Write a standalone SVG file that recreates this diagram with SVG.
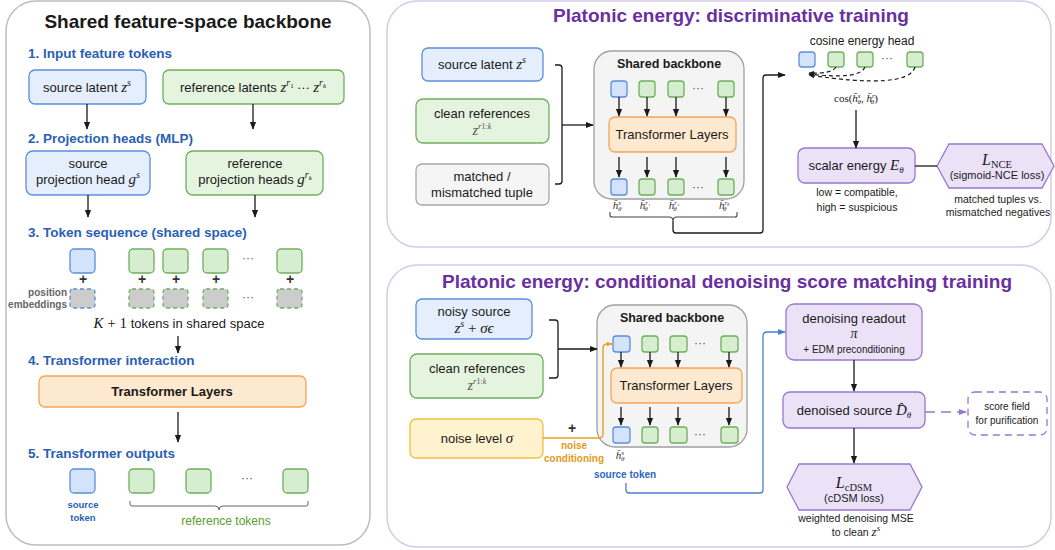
<svg xmlns="http://www.w3.org/2000/svg" width="1055" height="550" viewBox="0 0 1055 550">
<style>
text{font-family:"Liberation Sans",Arial,sans-serif;fill:#1a1a1a}
.ttl{font-size:19px;font-weight:bold}
.ptl{font-size:19px;font-weight:bold;fill:#6a2fa0}
.hdr{font-size:13.5px;font-weight:bold;fill:#2b5fb4}
.t13{font-size:13px}
.t12{font-size:12px}
.t11{font-size:11px}
.t10{font-size:10px}
.m{font-family:"Liberation Serif","Times New Roman",serif;font-style:italic}
.mr{font-family:"Liberation Serif","Times New Roman",serif}
.c{text-anchor:middle}
.r{text-anchor:end}
.bx-b{fill:#e4eefc;stroke:#5b8fd9;stroke-width:1.3}
.bx-g{fill:#e5f4de;stroke:#6db05c;stroke-width:1.3}
.bx-gr{fill:#f5f5f5;stroke:#a8a8a8;stroke-width:1.3}
.bx-o{fill:#fde9cf;stroke:#f3a65a;stroke-width:1.3}
.bx-y{fill:#fff3cf;stroke:#f0c040;stroke-width:1.3}
.bx-p{fill:#ece2f8;stroke:#9a76cf;stroke-width:1.3}
.tk-b{fill:#d3e3fb;stroke:#5b8fd9;stroke-width:1.3}
.tk-g{fill:#d6edd0;stroke:#6db05c;stroke-width:1.3}
.pe-b{fill:#cccccc;stroke:#5b8fd9;stroke-width:1.3;stroke-dasharray:4 3}
.pe-g{fill:#cccccc;stroke:#6db05c;stroke-width:1.3;stroke-dasharray:4 3}
.bb{fill:#f4f4f4;stroke:#a0a0a0;stroke-width:1.3}
.ln{fill:none;stroke:#1a1a1a;stroke-width:1.3}
.arr{fill:none;stroke:#1a1a1a;stroke-width:1.3;marker-end:url(#ah)}
.dots{fill:#555;font-size:12px}
.plus{fill:#333;font-size:14px;font-weight:bold;text-anchor:middle}
</style>
<defs>
<marker id="ah" viewBox="0 0 10 10" refX="9" refY="5" markerWidth="8" markerHeight="8" markerUnits="userSpaceOnUse" orient="auto"><path d="M0,1 L10,5 L0,9 z" fill="#1a1a1a"/></marker>
<marker id="ahs" viewBox="0 0 10 10" refX="9" refY="5" markerWidth="6" markerHeight="6" markerUnits="userSpaceOnUse" orient="auto"><path d="M0,1 L10,5 L0,9 z" fill="#1a1a1a"/></marker>
<marker id="aho" viewBox="0 0 10 10" refX="9" refY="5" markerWidth="6" markerHeight="6" markerUnits="userSpaceOnUse" orient="auto"><path d="M0,1 L10,5 L0,9 z" fill="#e6a020"/></marker>
<marker id="ahb" viewBox="0 0 10 10" refX="9" refY="5" markerWidth="8" markerHeight="8" markerUnits="userSpaceOnUse" orient="auto"><path d="M0,1 L10,5 L0,9 z" fill="#4a7fd0"/></marker>
<marker id="ahp" viewBox="0 0 10 10" refX="9" refY="5" markerWidth="8" markerHeight="8" markerUnits="userSpaceOnUse" orient="auto"><path d="M0,1 L10,5 L0,9 z" fill="#9a76cf"/></marker>
</defs>

<!-- panels -->
<g id="panels">
<rect x="6" y="1" width="364" height="544" rx="30" fill="#fff" stroke="#bdbdbd" stroke-width="1.5"/>
<rect x="387" y="1" width="664" height="246" rx="30" fill="#fff" stroke="#d5cae9" stroke-width="1.5"/>
<rect x="387" y="265" width="664" height="282" rx="30" fill="#fff" stroke="#d5cae9" stroke-width="1.5"/>
<text class="ttl c" x="188" y="28">Shared feature-space backbone</text>
<text class="ptl c" x="731" y="22">Platonic energy: discriminative training</text>
<text class="ptl c" x="727" y="288">Platonic energy: conditional denoising score matching training</text>
</g>

<!-- LEFT PANEL -->
<g id="left-headers">
<text class="hdr" x="28" y="58">1. Input feature tokens</text>
<text class="hdr" x="28" y="143">2. Projection heads (MLP)</text>
<text class="hdr" x="28" y="237">3. Token sequence (shared space)</text>
<text class="hdr" x="28" y="365">4. Transformer interaction</text>
<text class="hdr" x="28" y="458">5. Transformer outputs</text>
</g>
<g id="n-src-latent">
<rect class="bx-b" x="29" y="70" width="117" height="34" rx="6"/>
<text class="t13 c" x="87" y="92">source latent <tspan class="m" font-size="15">z</tspan><tspan class="m" font-size="10" dy="-6">s</tspan></text>
</g>
<g id="n-ref-latents">
<rect class="bx-g" x="163" y="70" width="181" height="34" rx="6"/>
<text class="t13 c" x="253" y="92">reference latents <tspan class="m" font-size="15">z</tspan><tspan class="m" font-size="10" dy="-6">r</tspan><tspan class="mr" font-size="7" dy="2">1</tspan><tspan class="mr" font-size="13" dy="4"> ··· </tspan><tspan class="m" font-size="15">z</tspan><tspan class="m" font-size="10" dy="-6">r</tspan><tspan class="m" font-size="7" dy="2">k</tspan></text>
</g>
<g id="n-src-head">
<rect class="bx-b" x="26" y="151" width="124" height="44" rx="7"/>
<text class="t13 c" x="88" y="168">source</text>
<text class="t13 c" x="88" y="184">projection head <tspan class="m" font-size="15">g</tspan><tspan class="m" font-size="10" dy="-6">s</tspan></text>
</g>
<g id="n-ref-head">
<rect class="bx-g" x="186" y="151" width="137" height="44" rx="7"/>
<text class="t13 c" x="255" y="168">reference</text>
<text class="t13 c" x="255" y="184">projection heads <tspan class="m" font-size="15">g</tspan><tspan class="m" font-size="10" dy="-6">r</tspan><tspan class="m" font-size="7" dy="2">k</tspan></text>
</g>
<g id="n-token-seq">
<rect class="tk-b" x="70" y="249" width="25" height="24" rx="4"/>
<rect class="tk-g" x="129" y="249" width="25" height="24" rx="4"/>
<rect class="tk-g" x="163" y="249" width="25" height="24" rx="4"/>
<rect class="tk-g" x="203" y="249" width="25" height="24" rx="4"/>
<text class="dots c" x="248" y="262">···</text>
<rect class="tk-g" x="277" y="249" width="25" height="24" rx="4"/>
<text class="plus" x="83" y="284">+</text>
<text class="plus" x="142" y="284">+</text>
<text class="plus" x="176" y="284">+</text>
<text class="plus" x="216" y="284">+</text>
<text class="plus" x="290" y="284">+</text>
<rect class="pe-b" x="70" y="289" width="25" height="19" rx="3"/>
<rect class="pe-g" x="129" y="289" width="25" height="19" rx="3"/>
<rect class="pe-g" x="163" y="289" width="25" height="19" rx="3"/>
<rect class="pe-g" x="203" y="289" width="25" height="19" rx="3"/>
<text class="dots c" x="248" y="301">···</text>
<rect class="pe-g" x="277" y="289" width="25" height="19" rx="3"/>
<text class="r" x="67" y="296" font-size="10" font-weight="bold" style="fill:#666">position</text>
<text class="r" x="67" y="308" font-size="10" font-weight="bold" style="fill:#666">embeddings</text>
<text class="t13 c" x="179" y="328"><tspan class="m" font-size="15">K</tspan><tspan class="mr" font-size="15"> + 1</tspan> tokens in shared space</text>
</g>
<g id="n-transformer-left">
<rect class="bx-o" x="39" y="376" width="267" height="31" rx="6"/>
<text class="c" x="172" y="396" font-size="13" font-weight="bold">Transformer Layers</text>
</g>
<g id="n-outputs-left">
<rect class="tk-b" x="70" y="469" width="25" height="24" rx="4"/>
<rect class="tk-g" x="129" y="469" width="25" height="24" rx="4"/>
<rect class="tk-g" x="186" y="469" width="25" height="24" rx="4"/>
<text class="dots c" x="247" y="482">···</text>
<rect class="tk-g" x="283" y="469" width="25" height="24" rx="4"/>
<text class="c" x="83" y="508" font-size="9.5" font-weight="bold" style="fill:#2b5fb4">source</text>
<text class="c" x="83" y="521" font-size="9.5" font-weight="bold" style="fill:#2b5fb4">token</text>
<path class="ln" d="M130,501 v3 q0,2 2,2 h83 q4,0 4,4 q0,-4 4,-4 h83 q2,0 2,-2 v-3" style="stroke:#666;stroke-width:1"/>
<text class="c" x="226" y="525" font-size="12" style="fill:#5aa02c">reference tokens</text>
</g>

<!-- TOP RIGHT PANEL -->
<g id="n-src-latent-t">
<rect class="bx-b" x="422" y="48" width="121" height="33" rx="6"/>
<text class="t13 c" x="482" y="69">source latent <tspan class="m" font-size="15">z</tspan><tspan class="m" font-size="10" dy="-6">s</tspan></text>
</g>
<g id="n-clean-refs-t">
<rect class="bx-g" x="416" y="99" width="133" height="44" rx="7"/>
<text class="t13 c" x="482" y="118">clean references</text>
<text class="c" x="482" y="135"><tspan class="m" font-size="14" style="fill:#555">z</tspan><tspan class="m" font-size="9" dy="-6" style="fill:#555">r</tspan><tspan class="mr" font-size="8" style="fill:#555">1:</tspan><tspan class="m" font-size="8" style="fill:#555">k</tspan></text>
</g>
<g id="n-tuple">
<rect class="bx-gr" x="416" y="164" width="133" height="41" rx="6"/>
<text class="t13 c" x="482" y="181">matched /</text>
<text class="t13 c" x="482" y="197">mismatched tuple</text>
</g>
<g id="n-backbone-t">
<rect class="bb" x="594" y="51" width="150" height="148" rx="18"/>
<text class="c" x="669" y="68" font-size="12.5" font-weight="bold">Shared backbone</text>
<rect class="tk-b" x="611" y="81" width="16" height="16" rx="3"/>
<rect class="tk-g" x="639" y="81" width="16" height="16" rx="3"/>
<rect class="tk-g" x="668" y="81" width="16" height="16" rx="3"/>
<text class="dots c" x="698" y="92">···</text>
<rect class="tk-g" x="718" y="81" width="16" height="16" rx="3"/>
<rect class="bx-o" x="609" y="117" width="127" height="35" rx="6"/>
<text class="t13 c" x="672" y="139">Transformer Layers</text>
<rect class="tk-b" x="611" y="179" width="16" height="16" rx="3"/>
<rect class="tk-g" x="639" y="179" width="16" height="16" rx="3"/>
<rect class="tk-g" x="668" y="179" width="16" height="16" rx="3"/>
<text class="dots c" x="698" y="191">···</text>
<rect class="tk-g" x="718" y="179" width="16" height="16" rx="3"/>
<text class="m c" x="617" y="209" font-size="11" style="fill:#333">h̄<tspan font-size="7" dy="-4">s</tspan><tspan font-size="7" dx="-3" dy="6">θ</tspan></text>
<text class="m c" x="645" y="209" font-size="11" style="fill:#333">h̄<tspan font-size="7" dy="-4">r₁</tspan><tspan font-size="7" dx="-6" dy="6">θ</tspan></text>
<text class="m c" x="674" y="209" font-size="11" style="fill:#333">h̄<tspan font-size="7" dy="-4">r₂</tspan><tspan font-size="7" dx="-6" dy="6">θ</tspan></text>
<text class="m c" x="724" y="209" font-size="11" style="fill:#333">h̄<tspan font-size="7" dy="-4">rₖ</tspan><tspan font-size="7" dx="-6" dy="6">θ</tspan></text>
</g>
<g id="n-cosine-head">
<text class="t12 c" x="862" y="45">cosine energy head</text>
<rect class="tk-b" x="799" y="52" width="16" height="15" rx="3"/>
<rect class="tk-g" x="828" y="52" width="16" height="15" rx="3"/>
<rect class="tk-g" x="857" y="52" width="16" height="15" rx="3"/>
<text class="dots c" x="887" y="62">···</text>
<rect class="tk-g" x="907" y="52" width="16" height="15" rx="3"/>
<text class="c" x="856" y="102" font-size="11"><tspan class="mr">cos(</tspan><tspan class="m">h̄</tspan><tspan class="m" font-size="7" dy="-4">s</tspan><tspan class="m" font-size="7" dx="-3" dy="6">θ</tspan><tspan class="mr" dy="-2">, </tspan><tspan class="m">h̄</tspan><tspan class="m" font-size="7" dy="-4">rᵢ</tspan><tspan class="m" font-size="7" dx="-5" dy="6">θ</tspan><tspan class="mr" dy="-2">)</tspan></text>
</g>
<g id="n-scalar-energy">
<rect class="bx-p" x="798" y="148" width="117" height="35" rx="7"/>
<text class="t13 c" x="856" y="170">scalar energy <tspan class="m" font-size="15">E</tspan><tspan class="m" font-size="9" dy="3">θ</tspan></text>
<text class="c" x="857" y="196" font-size="10.5">low = compatible,</text>
<text class="c" x="857" y="211" font-size="10.5">high = suspicious</text>
</g>
<g id="n-lnce">
<polygon class="bx-p" points="937,166 949,144 1042,144 1054,166 1042,188 949,188"/>
<text class="c" x="997" y="165"><tspan class="m" font-size="16">L</tspan><tspan class="mr" font-size="10.5" dy="3">NCE</tspan></text>
<text class="t11 c" x="997" y="179">(sigmoid-NCE loss)</text>
<text class="c" x="998" y="203" font-size="10.5">matched tuples vs.</text>
<text class="c" x="998" y="216" font-size="10.5">mismatched negatives</text>
</g>

<!-- BOTTOM RIGHT PANEL -->
<g id="n-noisy-src">
<rect class="bx-b" x="416" y="299" width="116" height="40" rx="6"/>
<text class="t13 c" x="474" y="316">noisy source</text>
<text class="c" x="474" y="333"><tspan class="m" font-size="15">z</tspan><tspan class="m" font-size="10" dy="-6">s</tspan><tspan class="mr" font-size="15" dy="6"> + </tspan><tspan class="m" font-size="15">σϵ</tspan></text>
</g>
<g id="n-clean-refs-b">
<rect class="bx-g" x="410" y="354" width="133" height="44" rx="7"/>
<text class="t13 c" x="477" y="373">clean references</text>
<text class="c" x="477" y="390"><tspan class="m" font-size="14" style="fill:#555">z</tspan><tspan class="m" font-size="9" dy="-6" style="fill:#555">r</tspan><tspan class="mr" font-size="8" style="fill:#555">1:</tspan><tspan class="m" font-size="8" style="fill:#555">k</tspan></text>
</g>
<g id="n-noise-level">
<rect class="bx-y" x="410" y="419" width="133" height="39" rx="6"/>
<text class="t13 c" x="477" y="443">noise level <tspan class="m" font-size="15">σ</tspan></text>
</g>
<g id="n-backbone-b">
<rect class="bb" x="597" y="305" width="150" height="142" rx="18"/>
<text class="c" x="672" y="322" font-size="12.5" font-weight="bold">Shared backbone</text>
<rect class="tk-b" x="613" y="336" width="17" height="16" rx="3"/>
<rect class="tk-g" x="642" y="336" width="16" height="16" rx="3"/>
<rect class="tk-g" x="670" y="336" width="17" height="16" rx="3"/>
<text class="dots c" x="700" y="347">···</text>
<rect class="tk-g" x="721" y="336" width="17" height="16" rx="3"/>
<rect class="bx-o" x="611" y="368" width="131" height="35" rx="6"/>
<text class="t13 c" x="676" y="390">Transformer Layers</text>
<rect class="tk-b" x="613" y="427" width="17" height="16" rx="3"/>
<rect class="tk-g" x="642" y="427" width="16" height="16" rx="3"/>
<rect class="tk-g" x="670" y="427" width="17" height="16" rx="3"/>
<text class="dots c" x="700" y="438">···</text>
<rect class="tk-g" x="721" y="427" width="17" height="16" rx="3"/>
<text class="m c" x="620" y="459" font-size="11" style="fill:#333">h̄<tspan font-size="7" dy="-4">s</tspan><tspan font-size="7" dx="-3" dy="6">θ</tspan></text>
<text class="c" x="625" y="478" font-size="10" font-weight="bold" style="fill:#2b66c4">source token</text>
</g>
<g id="n-readout">
<rect class="bx-p" x="786" y="304" width="136" height="56" rx="8"/>
<text class="t13 c" x="854" y="323">denoising readout</text>
<text class="m c" x="854" y="338" font-size="14">π</text>
<text class="c" x="854" y="353" font-size="10">+ EDM preconditioning</text>
</g>
<g id="n-denoised">
<rect class="bx-p" x="783" y="392" width="142" height="36" rx="7"/>
<text class="t13 c" x="854" y="415">denoised source <tspan class="m" font-size="15">D̂</tspan><tspan class="m" font-size="9" dy="3">θ</tspan></text>
</g>
<g id="n-score-field">
<rect x="968" y="392" width="79" height="43" rx="7" fill="#fff" stroke="#9a76cf" stroke-width="1.3" stroke-dasharray="7 5"/>
<text class="c" x="1007" y="410" font-size="10">score field</text>
<text class="c" x="1007" y="424" font-size="10">for purification</text>
</g>
<g id="n-lcdsm">
<polygon class="bx-p" points="787,487 799,464 910,464 922,487 910,510 799,510"/>
<text class="c" x="854" y="488"><tspan class="m" font-size="16">L</tspan><tspan class="mr" font-size="10.5" dy="3">cDSM</tspan></text>
<text class="t11 c" x="854" y="502">(cDSM loss)</text>
<text class="c" x="856" y="522" font-size="10.5">weighted denoising MSE</text>
<text class="c" x="856" y="536" font-size="10.5">to clean <tspan class="m" font-size="13">z</tspan><tspan class="m" font-size="9" dy="-5">s</tspan></text>
</g>

<!-- CONNECTORS -->
<g id="connectors">
<line class="arr" x1="87" y1="104" x2="87" y2="129"/>
<line class="arr" x1="253" y1="104" x2="253" y2="129"/>
<line class="arr" x1="88" y1="195" x2="88" y2="217"/>
<line class="arr" x1="255" y1="195" x2="255" y2="217"/>
<line class="arr" x1="178" y1="336" x2="178" y2="353"/>
<line class="arr" x1="178" y1="412" x2="178" y2="442"/>
<path class="ln" d="M555,65 h4 q3,0 3,3 v113 q0,3 -3,3 h-4"/>
<line class="arr" x1="562" y1="125" x2="593" y2="125"/>
<line class="arr" x1="619" y1="97" x2="619" y2="116"/>
<line class="arr" x1="647" y1="97" x2="647" y2="116"/>
<line class="arr" x1="676" y1="97" x2="676" y2="116"/>
<line class="arr" x1="726" y1="97" x2="726" y2="116"/>
<line class="arr" x1="619" y1="157" x2="619" y2="177"/>
<line class="arr" x1="647" y1="157" x2="647" y2="177"/>
<line class="arr" x1="676" y1="157" x2="676" y2="177"/>
<line class="arr" x1="726" y1="157" x2="726" y2="177"/>
<path class="ln" d="M610,212 v3 q0,2 2,2 h57 q4,0 4,4 q0,-4 4,-4 h58 q2,0 2,-2 v-3" style="stroke:#444;stroke-width:1.1"/>
<path class="ln" d="M673,221 v9 q0,3 3,3 h84 q3,0 3,-3 v-152 q0,-3 3,-3 h19" style="marker-end:url(#ah)"/>
<path d="M836,67 Q832,74 809,73" fill="none" stroke="#1a1a1a" stroke-width="1.2" stroke-dasharray="4 3" marker-end="url(#ahs)"/>
<path d="M865,67 Q860,80 809,74" fill="none" stroke="#1a1a1a" stroke-width="1.2" stroke-dasharray="4 3" marker-end="url(#ahs)"/>
<path d="M915,67 Q908,90 809,75" fill="none" stroke="#1a1a1a" stroke-width="1.2" stroke-dasharray="4 3" marker-end="url(#ahs)"/>
<line class="arr" x1="856" y1="110" x2="856" y2="148"/>
<line class="ln" x1="915" y1="166" x2="937" y2="166"/>
<path class="ln" d="M549,320 h6 q3,0 3,3 v52 q0,3 -3,3 h-6"/>
<line class="arr" x1="558" y1="349" x2="597" y2="349"/>
<line class="arr" x1="621" y1="352" x2="621" y2="367"/>
<line class="arr" x1="650" y1="352" x2="650" y2="367"/>
<line class="arr" x1="678" y1="352" x2="678" y2="367"/>
<line class="arr" x1="729" y1="352" x2="729" y2="367"/>
<line class="arr" x1="621" y1="407" x2="621" y2="425"/>
<line class="arr" x1="650" y1="407" x2="650" y2="425"/>
<line class="arr" x1="678" y1="407" x2="678" y2="425"/>
<line class="arr" x1="729" y1="407" x2="729" y2="425"/>
<path d="M543,438 h56 q4,0 4,-4 v-86 q0,-4 4,-4 h5" fill="none" stroke="#e6a020" stroke-width="1.4" marker-end="url(#aho)"/>
<text class="plus" x="572" y="433">+</text>
<text class="c" x="574" y="449" font-size="10" font-weight="bold" style="fill:#e39a1c">noise</text>
<text class="c" x="574" y="462" font-size="10" font-weight="bold" style="fill:#e39a1c">conditioning</text>
<path d="M626,483 v7 q0,3 3,3 h131 q3,0 3,-3 v-154 q0,-4 4,-4 h18" fill="none" stroke="#4a7fd0" stroke-width="1.3" marker-end="url(#ahb)"/>
<line class="arr" x1="854" y1="360" x2="854" y2="391"/>
<line x1="925" y1="412" x2="966" y2="412" stroke="#9a76cf" stroke-width="1.3" stroke-dasharray="10 6" marker-end="url(#ahp)"/>
<line class="arr" x1="854" y1="428" x2="854" y2="463"/>
</g>
</svg>
